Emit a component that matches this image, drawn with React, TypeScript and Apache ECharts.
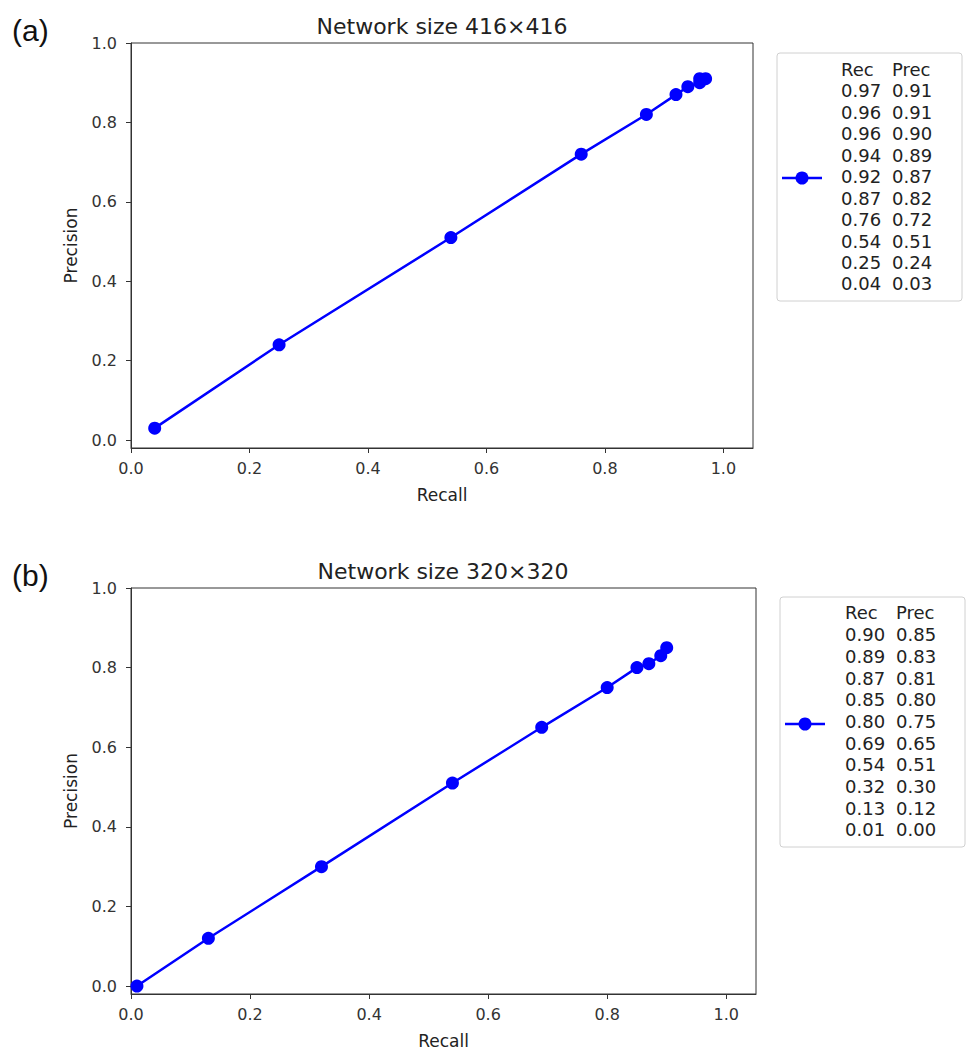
import React, { useEffect, useRef } from "react";
import * as echarts from "echarts";

// ---- data ----
const recallA = [0.04, 0.25, 0.54, 0.76, 0.87, 0.92, 0.94, 0.96, 0.96, 0.97];
const precisionA = [0.03, 0.24, 0.51, 0.72, 0.82, 0.87, 0.89, 0.9, 0.91, 0.91];
const recallB = [0.01, 0.13, 0.32, 0.54, 0.69, 0.8, 0.85, 0.87, 0.89, 0.9];
const precisionB = [0.0, 0.12, 0.3, 0.51, 0.65, 0.75, 0.8, 0.81, 0.83, 0.85];
const tickValues = [0, 0.2, 0.4, 0.6, 0.8, 1.0];
const titles = ["Network size 416×416", "Network size 320×320"];
const panelLabels = ["(a)", "(b)"];
const legendHeader = ["Rec", "Prec"];
const xAxisName = "Recall";
const yAxisName = "Precision";

// ---- layout (styles/positions) ----
const FONT = "DejaVu Sans";
const BLUE = "#0000ff";
const panels = [
  {
    rec: recallA,
    prec: precisionA,
    grid: { left: 131, top: 43, width: 622, height: 405 },
    title: { x: 442, y: 26 },
    label: { x: 12, y: 30 },
    box: { x: 777, y: 53, w: 185, h: 248 },
    col1: 841,
    col2: 892,
    textY0: 69.3,
    lineH: 21.47,
    marker: { x1: 782, x2: 822, y: 178 },
  },
  {
    rec: recallB,
    prec: precisionB,
    grid: { left: 131, top: 588, width: 625, height: 406 },
    title: { x: 443, y: 571 },
    label: { x: 12, y: 575 },
    box: { x: 780, y: 597, w: 185, h: 250 },
    col1: 845,
    col2: 896,
    textY0: 613,
    lineH: 21.7,
    marker: { x1: 785, x2: 825, y: 724 },
  },
];

export default function App() {
  const ref = useRef<HTMLDivElement>(null);

  useEffect(() => {
    if (!ref.current) return;
    const chart = echarts.init(ref.current, undefined, { renderer: "svg" });

    const grids: any[] = [];
    const xAxes: any[] = [];
    const yAxes: any[] = [];
    const series: any[] = [];
    const graphics: any[] = [];

    panels.forEach((p, i) => {
      grids.push({
        ...p.grid,
        show: true,
        borderColor: "#333",
        borderWidth: 1,
        backgroundColor: "transparent",
      });
      xAxes.push({
        type: "value",
        gridIndex: i,
        min: 0,
        max: 1.05,
        name: xAxisName,
        nameLocation: "middle",
        nameGap: 38,
        nameTextStyle: { fontFamily: FONT, fontSize: 17, color: "#222" },
        splitLine: { show: false },
        axisLine: { show: true, onZero: false, lineStyle: { color: "#333", width: 1 } },
        axisTick: {
          show: true,
          inside: false,
          length: 5,
          customValues: tickValues,
          lineStyle: { color: "#333" },
        },
        axisLabel: {
          customValues: tickValues,
          margin: 12,
          fontFamily: FONT,
          fontSize: 16,
          color: "#333",
          formatter: (v: number) => v.toFixed(1),
        },
      });
      yAxes.push({
        type: "value",
        gridIndex: i,
        min: -0.02,
        max: 1.0,
        name: yAxisName,
        nameLocation: "middle",
        nameGap: 52,
        nameRotate: 90,
        nameTextStyle: { fontFamily: FONT, fontSize: 17, color: "#222" },
        splitLine: { show: false },
        axisLine: { show: true, onZero: false, lineStyle: { color: "#333", width: 1 } },
        axisTick: {
          show: true,
          inside: false,
          length: 5,
          customValues: tickValues,
          lineStyle: { color: "#333" },
        },
        axisLabel: {
          customValues: tickValues,
          margin: 14,
          fontFamily: FONT,
          fontSize: 16,
          color: "#333",
          formatter: (v: number) => v.toFixed(1),
        },
      });
      series.push({
        type: "line",
        xAxisIndex: i,
        yAxisIndex: i,
        data: p.rec.map((r, k) => [r, p.prec[k]]),
        symbol: "circle",
        symbolSize: 13,
        showSymbol: true,
        lineStyle: { color: BLUE, width: 2.5 },
        itemStyle: { color: BLUE },
        emphasis: { disabled: true },
        z: 3,
      });

      // title
      graphics.push({
        type: "text",
        x: p.title.x,
        y: p.title.y,
        style: {
          text: titles[i],
          fontFamily: FONT,
          fontSize: 22,
          fill: "#222",
          align: "center",
          verticalAlign: "middle",
        },
      });
      // panel label
      graphics.push({
        type: "text",
        x: p.label.x,
        y: p.label.y,
        style: {
          text: panelLabels[i],
          fontFamily: "Liberation Sans",
          fontSize: 30,
          fill: "#111",
          align: "left",
          verticalAlign: "middle",
        },
      });

      // legend box
      graphics.push({
        type: "rect",
        shape: { x: p.box.x, y: p.box.y, width: p.box.w, height: p.box.h, r: 3 },
        style: { fill: "#fff", stroke: "#d0d0d0", lineWidth: 1 },
        z: 10,
      });
      graphics.push({
        type: "line",
        shape: { x1: p.marker.x1, y1: p.marker.y, x2: p.marker.x2, y2: p.marker.y },
        style: { stroke: BLUE, lineWidth: 2.5 },
        z: 11,
      });
      graphics.push({
        type: "circle",
        shape: { cx: (p.marker.x1 + p.marker.x2) / 2, cy: p.marker.y, r: 6.5 },
        style: { fill: BLUE },
        z: 12,
      });
      const recLines = [legendHeader[0]].concat(
        p.rec.slice().reverse().map((v) => v.toFixed(2))
      );
      const precLines = [legendHeader[1]].concat(
        p.prec.slice().reverse().map((v) => v.toFixed(2))
      );
      [
        { x: p.col1, lines: recLines },
        { x: p.col2, lines: precLines },
      ].forEach((c) => {
        graphics.push({
          type: "text",
          x: c.x,
          y: p.textY0 - p.lineH / 2,
          z: 12,
          style: {
            text: c.lines.join("\n"),
            fontFamily: FONT,
            fontSize: 18,
            lineHeight: p.lineH,
            fill: "#222",
            align: "left",
            verticalAlign: "top",
          },
        });
      });
    });

    chart.setOption({
      animation: false,
      backgroundColor: "#fff",
      grid: grids,
      xAxis: xAxes,
      yAxis: yAxes,
      series,
      graphic: graphics,
    });

    return () => chart.dispose();
  }, []);

  return (
    <div
      ref={ref}
      style={{ position: "absolute", left: 0, top: 0, width: 966, height: 1055 }}
    />
  );
}
